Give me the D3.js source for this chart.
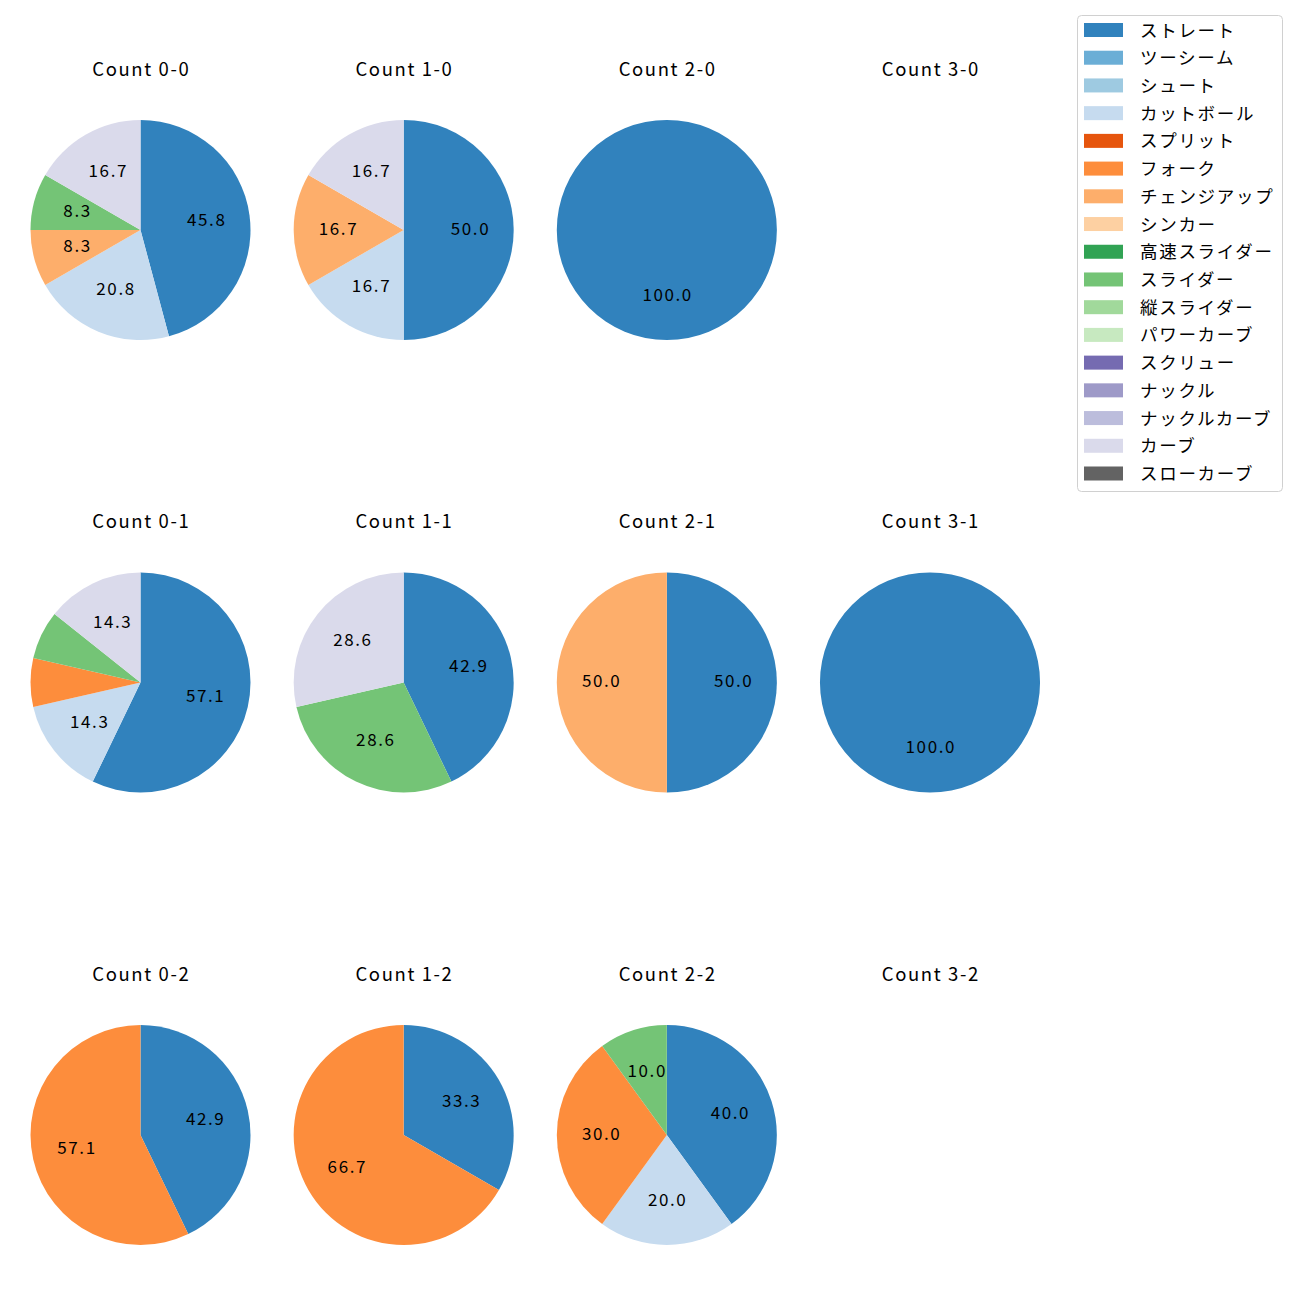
<!DOCTYPE html>
<html><head><meta charset="utf-8">
<script src="https://cdn.jsdelivr.net/npm/d3@7"></script>
<style>body{margin:0;background:#fff;} svg{display:block;}</style>
</head><body>
<svg id="c" width="1300" height="1300"></svg>
<script>
const pitchTypes = ["ストレート","ツーシーム","シュート","カットボール","スプリット","フォーク","チェンジアップ","シンカー","高速スライダー","スライダー","縦スライダー","パワーカーブ","スクリュー","ナックル","ナックルカーブ","カーブ","スローカーブ"];
const colors = ["#3182bd","#6baed6","#9ecae1","#c6dbef","#e6550d","#fd8d3c","#fdae6b","#fdd0a2","#31a354","#74c476","#a1d99b","#c7e9c0","#756bb1","#9e9ac8","#bcbddc","#dadaeb","#636363"];
const balls = [0,1,2,3];
const strikes = [0,1,2];
// pitch counts per ball-strike count, indexed like pitchTypes
const count00 = [11,0,0,5,0,0,2,0,0,2,0,0,0,0,0,4,0];
const count10 = [3,0,0,1,0,0,1,0,0,0,0,0,0,0,0,1,0];
const count20 = [1,0,0,0,0,0,0,0,0,0,0,0,0,0,0,0,0];
const count30 = [];
const count01 = [8,0,0,2,0,1,0,0,0,1,0,0,0,0,0,2,0];
const count11 = [3,0,0,0,0,0,0,0,0,2,0,0,0,0,0,2,0];
const count21 = [1,0,0,0,0,0,1,0,0,0,0,0,0,0,0,0,0];
const count31 = [1,0,0,0,0,0,0,0,0,0,0,0,0,0,0,0,0];
const count02 = [3,0,0,0,0,4,0,0,0,0,0,0,0,0,0,0,0];
const count12 = [1,0,0,0,0,2,0,0,0,0,0,0,0,0,0,0,0];
const count22 = [4,0,0,2,0,3,0,0,0,1,0,0,0,0,0,0,0];
const count32 = [];
const labelThreshold = 8;

const grid = {"0-0":count00,"1-0":count10,"2-0":count20,"3-0":count30,
  "0-1":count01,"1-1":count11,"2-1":count21,"3-1":count31,
  "0-2":count02,"1-2":count12,"2-2":count22,"3-2":count32};

const svg = d3.select("#c");
const font = "'Noto Sans CJK JP', 'Noto Sans', sans-serif";
const x = d3.scalePoint().domain(balls).range([140.5, 930]);
const y = d3.scalePoint().domain(strikes).range([230, 1135]);
const r = 110;
const color = d3.scaleOrdinal().domain(pitchTypes).range(colors);
const ls = 1.6;

strikes.forEach(s => balls.forEach(b => {
  const key = `${b}-${s}`;
  const vals = grid[key];
  const cx = x(b), cy = y(s);
  svg.append("text").attr("x", cx + ls/2).attr("y", cy - 162.5).attr("text-anchor","middle")
    .attr("dominant-baseline","central").attr("font-family", font).attr("font-size", 18.5)
    .attr("letter-spacing", ls).attr("fill","#000").text(`Count ${key}`);
  if (!vals.length) return;
  const data = pitchTypes.map((p,i)=>({p, v: vals[i]||0})).filter(d=>d.v>0);
  const total = d3.sum(data, d=>d.v);
  const pie = d3.pie().sort(null).value(d=>d.v);
  const arcs = pie(data);
  const g = svg.append("g").attr("transform", `translate(${cx},${cy})`);
  const arc = d3.arc().innerRadius(0).outerRadius(r);
  g.selectAll("path").data(arcs).join("path").attr("d", arc).attr("fill", d=>color(d.data.p));
  g.selectAll("text").data(arcs.filter(d=>d.data.v/total*100 >= labelThreshold)).join("text")
    .attr("transform", d => {
      const a = (d.startAngle + d.endAngle)/2;
      return `translate(${0.6*r*Math.sin(a) + ls/2},${-0.6*r*Math.cos(a) - 3})`;
    })
    .attr("text-anchor","middle").attr("dominant-baseline","central")
    .attr("font-family", font).attr("font-size", 17).attr("letter-spacing", ls).attr("fill","#000")
    .text(d => (d.data.v/total*100).toFixed(1));
}));

// legend
const lg = svg.append("g");
lg.append("rect").attr("x",1077.5).attr("y",15.5).attr("width",205).attr("height",476)
  .attr("rx",4).attr("fill","#fff").attr("stroke","#d0d0d0").attr("stroke-width",1);
const ly = d3.scalePoint().domain(pitchTypes).range([30, 473.5]);
pitchTypes.forEach(p => {
  lg.append("rect").attr("x",1084).attr("y",ly(p)-7).attr("width",39).attr("height",14).attr("fill",color(p));
  lg.append("text").attr("x",1140).attr("y",ly(p)-1).attr("dominant-baseline","central")
    .attr("font-family",font).attr("font-size",17.5).attr("letter-spacing", 1.7).attr("fill","#000").text(p);
});
</script>
</body></html>
